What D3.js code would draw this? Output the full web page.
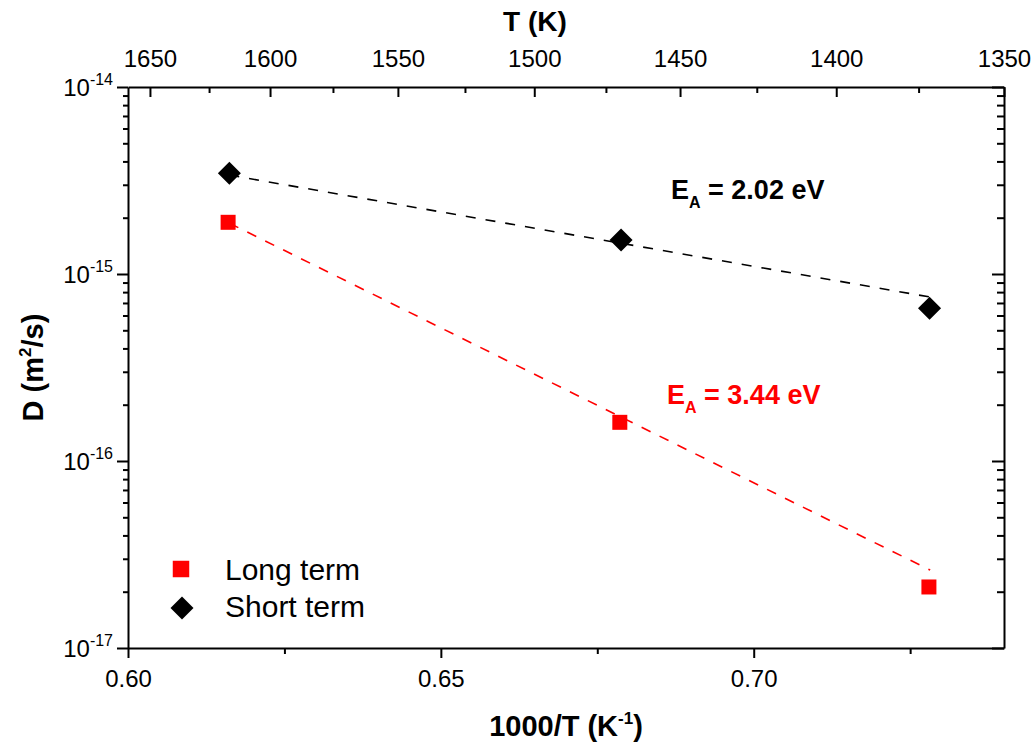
<!DOCTYPE html>
<html lang="en">
<head>
  <meta charset="utf-8">
  <title>D vs 1000/T</title>
  <script src="https://d3js.org/d3.v7.min.js"></script>
  <style>
    body { margin: 0; background: #fff; }
    svg { font-family: "Liberation Sans", Arial, sans-serif; }
    .axis path, .axis line { stroke: #000; stroke-width: 2; }
    .axis text { font-size: 24px; fill: #000; }
  </style>
</head>
<body>
<svg id="chart" width="1031" height="745"></svg>
<script>
  // data (x = 1000/T in 1/K, D in m^2/s)
  const xLong = [0.6160, 0.6786, 0.7280];
  const dLong = [1.89e-15, 1.61e-16, 2.12e-17];
  const xShort = [0.6162, 0.6788, 0.7281];
  const dShort = [3.46e-15, 1.52e-15, 6.56e-16];

  // Arrhenius fit lines (end points)
  const fitX = [0.6162, 0.7282];
  const fitLong = [1.87e-15, 2.61e-17];
  const fitShort = [3.38e-15, 7.53e-16];

  const xTicks = [0.60, 0.65, 0.70];
  const xMinor = [0.625, 0.675, 0.725];
  const tTicks = [1650, 1600, 1550, 1500, 1450, 1400, 1350];
  const tMinor = [1625, 1575, 1525, 1475, 1425, 1375];
  const decades = [-17, -16, -15, -14];

  const labels = { long: "Long term", short: "Short term", eaShort: "2.02", eaLong: "3.44" };

  const margin = { top: 87, right: 27, bottom: 97, left: 128 },
        width = 1031 - margin.left - margin.right,
        height = 745 - margin.top - margin.bottom;

  const svg = d3.select("#chart").append("g")
      .attr("transform", `translate(${margin.left},${margin.top})`);

  const x = d3.scaleLinear().domain([0.60, 0.74]).range([0, width]);
  // top axis is in T but not exactly aligned with the bottom one
  const xTop = d3.scaleLinear().domain([0.6026, 1000 / 1350]).range([0, width]);
  const y = d3.scaleLog().domain([1e-17, 1e-14]).range([height, 0]);

  const majorY = decades.map(e => Math.pow(10, e));
  const minorY = y.ticks().filter(v => Math.abs(Math.log10(v) - Math.round(Math.log10(v))) > 1e-6);

  // bottom axis
  svg.append("g").attr("class", "axis").attr("transform", `translate(0,${height})`)
      .call(d3.axisBottom(x).tickValues(xTicks).tickSize(10).tickSizeOuter(0)
          .tickPadding(12).tickFormat(d3.format(".2f")));
  svg.append("g").attr("class", "axis minor").attr("transform", `translate(0,${height})`)
      .call(d3.axisBottom(x).tickValues(xMinor).tickSize(6).tickFormat(""))
      .select(".domain").remove();

  // top axis (ticks inward)
  svg.append("g").attr("class", "axis")
      .call(d3.axisTop(xTop).tickValues(tTicks.map(t => 1000 / t)).tickSizeInner(-10).tickSizeOuter(0)
          .tickPadding(20).tickFormat(v => Math.round(1000 / v)));
  svg.append("g").attr("class", "axis minor")
      .call(d3.axisTop(xTop).tickValues(tMinor.map(t => 1000 / t)).tickSizeInner(-6).tickFormat(""))
      .select(".domain").remove();

  // left axis (ticks outward), labels drawn by hand for superscripts
  const leftAxis = svg.append("g").attr("class", "axis")
      .call(d3.axisLeft(y).tickValues(majorY).tickSize(11).tickSizeOuter(0).tickFormat(""));
  svg.append("g").attr("class", "axis minor")
      .call(d3.axisLeft(y).tickValues(minorY).tickSize(5).tickFormat(""))
      .select(".domain").remove();

  leftAxis.selectAll(".tick").append("text")
      .attr("x", -15).attr("y", 8)
      .attr("text-anchor", "end")
      .style("font-size", "24px")
      .each(function(d) {
        const t = d3.select(this);
        t.append("tspan").text("10");
        t.append("tspan").attr("dy", -11).style("font-size", "16px").text(Math.round(Math.log10(d)));
      });

  // right axis (ticks inward)
  svg.append("g").attr("class", "axis").attr("transform", `translate(${width},0)`)
      .call(d3.axisRight(y).tickValues(majorY).tickSizeInner(-12).tickSizeOuter(0).tickFormat(""));
  svg.append("g").attr("class", "axis minor").attr("transform", `translate(${width},0)`)
      .call(d3.axisRight(y).tickValues(minorY).tickSizeInner(-7).tickFormat(""))
      .select(".domain").remove();

  // axis titles
  const xTitle = svg.append("text")
      .attr("x", width / 2).attr("y", height + 88)
      .attr("text-anchor", "middle")
      .style("font-size", "29px").style("font-weight", "bold");
  xTitle.append("tspan").text("1000/T (K");
  xTitle.append("tspan").attr("dy", -12).style("font-size", "17px").text("-1");
  xTitle.append("tspan").attr("dy", 12).text(")");

  svg.append("text")
      .attr("x", 535 - margin.left).attr("y", 31 - margin.top)
      .attr("text-anchor", "middle")
      .style("font-size", "28px").style("font-weight", "bold")
      .text("T (K)");

  const yTitle = svg.append("text")
      .attr("transform", `translate(${43 - margin.left},${height / 2}) rotate(-90)`)
      .attr("text-anchor", "middle")
      .style("font-size", "29px").style("font-weight", "bold");
  yTitle.append("tspan").text("D (m");
  yTitle.append("tspan").attr("dy", -12).style("font-size", "17px").text("2");
  yTitle.append("tspan").attr("dy", 12).text("/s)");

  // fit lines
  const line = d3.line().x(d => x(d[0])).y(d => y(d[1]));
  svg.append("path")
      .datum(fitX.map((v, i) => [v, fitShort[i]]))
      .attr("fill", "none").attr("stroke", "#000").attr("stroke-width", 1.6)
      .attr("stroke-dasharray", "10,10").attr("d", line);
  svg.append("path")
      .datum(fitX.map((v, i) => [v, fitLong[i]]))
      .attr("fill", "none").attr("stroke", "#ff0000").attr("stroke-width", 1.6)
      .attr("stroke-dasharray", "10,10").attr("d", line);

  // markers
  const square = d3.symbol().type(d3.symbolSquare).size(225);
  const diamond = d3.symbol().type(d3.symbolSquare).size(265);

  svg.selectAll(".pt-long")
      .data(xLong.map((v, i) => [v, dLong[i]]))
      .enter().append("path")
      .attr("class", "pt-long")
      .attr("transform", d => `translate(${x(d[0])},${y(d[1])})`)
      .attr("d", square).attr("fill", "#ff0000");

  svg.selectAll(".pt-short")
      .data(xShort.map((v, i) => [v, dShort[i]]))
      .enter().append("path")
      .attr("class", "pt-short")
      .attr("transform", d => `translate(${x(d[0])},${y(d[1])}) rotate(45)`)
      .attr("d", diamond).attr("fill", "#000");

  // activation energy labels
  function eaLabel(px, py, value, color) {
    const t = svg.append("text")
        .attr("x", px).attr("y", py)
        .attr("fill", color)
        .style("font-size", "27px").style("font-weight", "bold");
    t.append("tspan").text("E");
    t.append("tspan").attr("dy", 9).style("font-size", "16px").text("A");
    t.append("tspan").attr("dy", -9).text(` = ${value} eV`);
  }
  eaLabel(671 - margin.left, 199 - margin.top, labels.eaShort, "#000");
  eaLabel(667 - margin.left, 404 - margin.top, labels.eaLong, "#ff0000");

  // legend
  const legend = svg.append("g").attr("transform", `translate(${181 - margin.left},${569 - margin.top})`);
  legend.append("path").attr("d", d3.symbol().type(d3.symbolSquare).size(272)).attr("fill", "#ff0000");
  legend.append("path").attr("transform", "translate(1,39) rotate(45)")
      .attr("d", d3.symbol().type(d3.symbolSquare).size(265)).attr("fill", "#000");
  legend.append("text").attr("x", 44).attr("y", 11).style("font-size", "30px").text(labels.long);
  legend.append("text").attr("x", 44).attr("y", 48).style("font-size", "30px").text(labels.short);
</script>
</body>
</html>
